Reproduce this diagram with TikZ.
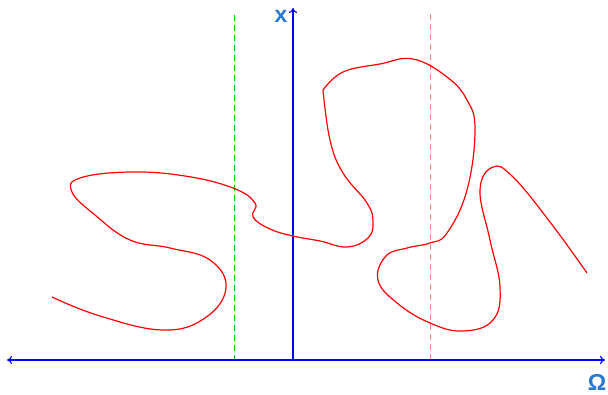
\documentclass[tikz,border=0pt]{standalone}
\usepackage{fontspec}
\setmainfont{Liberation Sans}
\usetikzlibrary{arrows.meta}
\definecolor{lblblue}{RGB}{40,120,210}
\definecolor{pinkred}{RGB}{255,130,130}
\definecolor{dgreen}{RGB}{0,210,0}
\tikzset{
  axisline/.style={blue, line width=1.1pt, -{To[length=5pt,width=8pt]}},
  axislabel/.style={text=lblblue, font=\fontsize{23}{25}\selectfont\bfseries, inner sep=0pt},
  guide/.style={line width=1pt, dashed, dash pattern=on 6pt off 4pt},
  curve/.style={red, line width=1.2pt, smooth, tension=0.7}
}
\begin{document}
\begin{tikzpicture}[x=1pt,y=-1pt]
\useasboundingbox (0,0) rectangle (608,394);
\coordinate (L) at (7,360);
\coordinate (R) at (605,360);
\coordinate (O) at (293,360);
\coordinate (T) at (293,8);
\coordinate (g0) at (234,15);
\coordinate (g1) at (234,360);
\coordinate (p0) at (430,14);
\coordinate (p1) at (430,360);
\draw[guide, dgreen] (g0) -- (g1);
\draw[guide, pinkred] (p0) -- (p1);
\draw[blue, line width=1.1pt, {To[length=5pt,width=8pt]}-{To[length=5pt,width=8pt]}] (L) -- (R);
\draw[axisline] (O) -- (T);
\node[axislabel] (xl) at (281,16) {x};
\node[axislabel] (wl) at (597,382) {Ω};
\draw[curve] plot coordinates {(52,297) (100,316) (163,330) (205,318) (226,288) (210,260) (170,248) (130,240) (95,215) (72,192) (80,178) (130,172) (185,176) (233,188) (255,203) (253,217) (270,229) (293,236) (320,241) (347,247) (368,238) (373,222) (367,203) (343,173) (330,140) (323,90)};
\draw[curve] plot coordinates {(323,90) (343,72) (380,64) (413,59) (447,77) (467,100) (475,130) (467,190) (447,233) (430,243) (407,248) (386,256) (378,280) (397,303) (430,323) (463,331) (493,320) (500,287) (490,240) (480,190) (493,167) (513,177) (550,222) (587,273)};
\end{tikzpicture}
\end{document}
